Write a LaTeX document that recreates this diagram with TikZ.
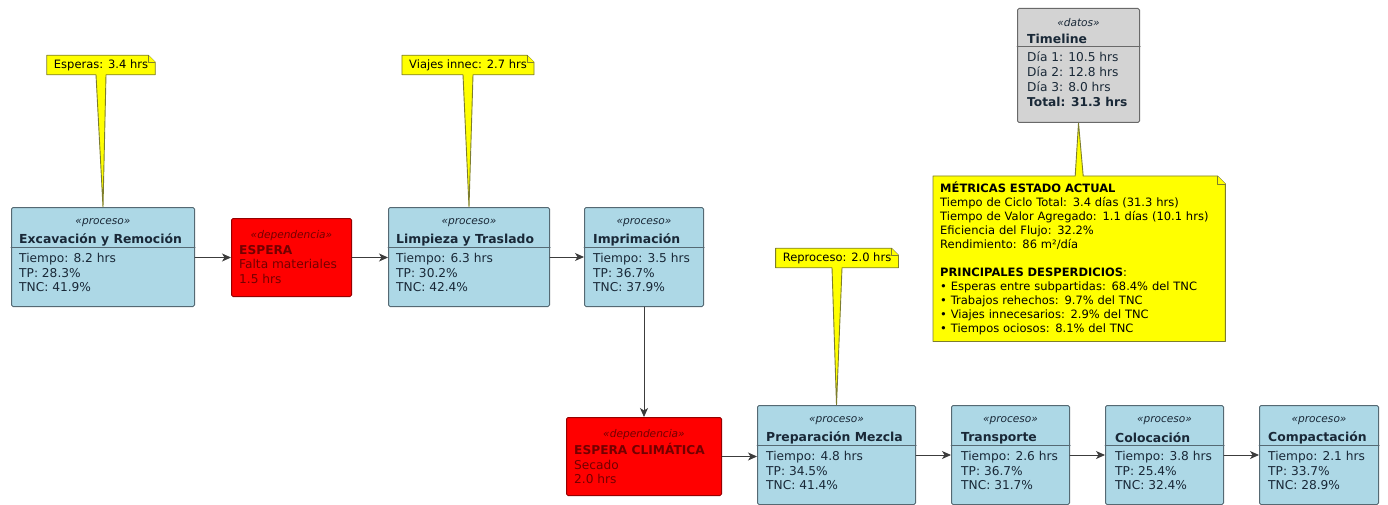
\documentclass[tikz,border=0pt]{standalone}
\usepackage{fontspec}
\setmainfont{DejaVu Sans}
\usepackage{tikz}
\usetikzlibrary{arrows.meta, calc, backgrounds}
\definecolor{procBlue}{HTML}{ADD8E6}
\definecolor{procLine}{RGB}{85,105,115}
\definecolor{waitRed}{HTML}{FF0000}
\definecolor{waitLine}{RGB}{150,0,0}
\definecolor{waitText}{RGB}{115,0,0}
\definecolor{noteYellow}{HTML}{FFFF00}
\definecolor{noteLine}{RGB}{125,125,45}
\definecolor{dataGray}{HTML}{D3D3D3}
\definecolor{dataLine}{RGB}{105,105,105}
\definecolor{inkDark}{RGB}{25,40,55}
\definecolor{flowGray}{RGB}{60,60,60}

\begin{document}
\begin{tikzpicture}[x=1pt, y=-1pt, line cap=round,
  proc/.style={draw=procLine, fill=procBlue, line width=1pt, rounded corners=1.5pt,
    minimum width=#1, minimum height=99pt, anchor=north west, inner sep=0pt},
  wait/.style={draw=waitLine, fill=waitRed, line width=1pt, rounded corners=1.5pt,
    minimum width=#1, minimum height=78pt, anchor=north west, inner sep=0pt},
  data/.style={draw=dataLine, fill=dataGray, line width=1pt, rounded corners=1.5pt,
    minimum width=122pt, minimum height=114pt, anchor=north west, inner sep=0pt},
  stereo/.style={font=\fontsize{10.6}{13}\selectfont\itshape, text=inkDark, inner sep=0pt},
  boxtitle/.style={font=\fontsize{12.4}{14}\selectfont\bfseries, text=inkDark, anchor=west, inner sep=0pt},
  boxbody/.style={font=\fontsize{12.2}{14.7}\selectfont, text=inkDark, align=left, anchor=north west, inner sep=0pt},
  sepline/.style={draw=procLine, line width=1pt},
  notetext/.style={font=\fontsize{11.5}{14}\selectfont, inner xsep=7pt, inner ysep=4pt},
  noteshape/.style={draw=noteLine, fill=noteYellow, line width=0.9pt, line join=round},
  flow/.style={draw=flowGray, line width=0.9pt, -{Stealth[length=9pt, width=8pt, inset=2.5pt]}}]

  \useasboundingbox (0,0) rectangle (1388,505);

  % procesos, fila superior
  \node[proc=183pt] (exc) at (11,207) {};
  \node[stereo] (excS) at ([yshift=-16pt]exc.north) {«proceso»};
  \node[boxtitle] (excT) at ([xshift=8pt,yshift=-33pt]exc.north west) {Excavación y Remoción};
  \draw[sepline] ([yshift=-40pt]exc.north west) -- ([yshift=-40pt]exc.north east);
  \node[boxbody] (excB) at ([xshift=8pt,yshift=-46pt]exc.north west) {Tiempo: 8.2 hrs\\TP: 28.3\%\\TNC: 41.9\%};

  \node[wait=120pt] (esp) at (231,218) {};
  \node[stereo, text=waitText] (espS) at ([yshift=-18pt]esp.north) {«dependencia»};
  \node[boxbody, text=waitText] (espB) at ([xshift=8pt,yshift=-27pt]esp.north west) {\textbf{ESPERA}\\Falta materiales\\1.5 hrs};

  \node[proc=161pt] (limp) at (388,207) {};
  \node[stereo] (limpS) at ([yshift=-16pt]limp.north) {«proceso»};
  \node[boxtitle] (limpT) at ([xshift=8pt,yshift=-33pt]limp.north west) {Limpieza y Traslado};
  \draw[sepline] ([yshift=-40pt]limp.north west) -- ([yshift=-40pt]limp.north east);
  \node[boxbody] (limpB) at ([xshift=8pt,yshift=-46pt]limp.north west) {Tiempo: 6.3 hrs\\TP: 30.2\%\\TNC: 42.4\%};

  \node[proc=119pt] (impr) at (584,207) {};
  \node[stereo] (imprS) at ([yshift=-16pt]impr.north) {«proceso»};
  \node[boxtitle] (imprT) at ([xshift=9pt,yshift=-33pt]impr.north west) {Imprimación};
  \draw[sepline] ([yshift=-40pt]impr.north west) -- ([yshift=-40pt]impr.north east);
  \node[boxbody] (imprB) at ([xshift=9pt,yshift=-46pt]impr.north west) {Tiempo: 3.5 hrs\\TP: 36.7\%\\TNC: 37.9\%};

  % procesos, fila inferior
  \node[wait=155pt] (clim) at (566,417) {};
  \node[stereo, text=waitText] (climS) at ([yshift=-18pt]clim.north) {«dependencia»};
  \node[boxbody, text=waitText] (climB) at ([xshift=8pt,yshift=-26pt]clim.north west) {\textbf{ESPERA CLIMÁTICA}\\Secado\\2.0 hrs};

  \node[proc=158pt] (prep) at (757,405) {};
  \node[stereo] (prepS) at ([yshift=-16pt]prep.north) {«proceso»};
  \node[boxtitle] (prepT) at ([xshift=9pt,yshift=-33pt]prep.north west) {Preparación Mezcla};
  \draw[sepline] ([yshift=-40pt]prep.north west) -- ([yshift=-40pt]prep.north east);
  \node[boxbody] (prepB) at ([xshift=9pt,yshift=-46pt]prep.north west) {Tiempo: 4.8 hrs\\TP: 34.5\%\\TNC: 41.4\%};

  \node[proc=118pt] (tran) at (951,405) {};
  \node[stereo] (tranS) at ([yshift=-16pt]tran.north) {«proceso»};
  \node[boxtitle] (tranT) at ([xshift=10pt,yshift=-33pt]tran.north west) {Transporte};
  \draw[sepline] ([yshift=-40pt]tran.north west) -- ([yshift=-40pt]tran.north east);
  \node[boxbody] (tranB) at ([xshift=10pt,yshift=-46pt]tran.north west) {Tiempo: 2.6 hrs\\TP: 36.7\%\\TNC: 31.7\%};

  \node[proc=118pt] (colo) at (1105,405) {};
  \node[stereo] (coloS) at ([yshift=-16pt]colo.north) {«proceso»};
  \node[boxtitle] (coloT) at ([xshift=10pt,yshift=-33pt]colo.north west) {Colocación};
  \draw[sepline] ([yshift=-40pt]colo.north west) -- ([yshift=-40pt]colo.north east);
  \node[boxbody] (coloB) at ([xshift=10pt,yshift=-46pt]colo.north west) {Tiempo: 3.8 hrs\\TP: 25.4\%\\TNC: 32.4\%};

  \node[proc=119pt] (comp) at (1259,405) {};
  \node[stereo] (compS) at ([yshift=-16pt]comp.north) {«proceso»};
  \node[boxtitle] (compT) at ([xshift=9pt,yshift=-33pt]comp.north west) {Compactación};
  \draw[sepline] ([yshift=-40pt]comp.north west) -- ([yshift=-40pt]comp.north east);
  \node[boxbody] (compB) at ([xshift=9pt,yshift=-46pt]comp.north west) {Tiempo: 2.1 hrs\\TP: 33.7\%\\TNC: 28.9\%};

  % timeline
  \node[data] (tl) at (1017,8) {};
  \node[stereo] (tlS) at ([yshift=-15pt]tl.north) {«datos»};
  \node[boxtitle] (tlT) at ([xshift=10pt,yshift=-31pt]tl.north west) {Timeline};
  \draw[sepline, draw=dataLine] ([yshift=-39pt]tl.north west) -- ([yshift=-39pt]tl.north east);
  \node[boxbody] (tlB) at ([xshift=10pt,yshift=-44pt]tl.north west) {Día 1: 10.5 hrs\\Día 2: 12.8 hrs\\Día 3: 8.0 hrs\\\textbf{Total: 31.3 hrs}};

  % notas
  \node[notetext] (nEsp) at (101,65) {Esperas: 3.4 hrs};
  \node[notetext] (nVia) at (468,65) {Viajes innec: 2.7 hrs};
  \node[notetext] (nRep) at (837,258) {Reproceso: 2.0 hrs};
  \node[notetext, text width=278pt, inner ysep=6pt, anchor=north west] (nMet) at (933,176)
    {\textbf{MÉTRICAS ESTADO ACTUAL}\\
     Tiempo de Ciclo Total: 3.4 días (31.3 hrs)\\
     Tiempo de Valor Agregado: 1.1 días (10.1 hrs)\\
     Eficiencia del Flujo: 32.2\%\\
     Rendimiento: 86 m²/día\\[14pt]
     \textbf{PRINCIPALES DESPERDICIOS}:\\
     • Esperas entre subpartidas: 68.4\% del TNC\\
     • Trabajos rehechos: 9.7\% del TNC\\
     • Viajes innecesarios: 2.9\% del TNC\\
     • Tiempos ociosos: 8.1\% del TNC};

  \begin{scope}[on background layer]
    \draw[noteshape] (nEsp.north west) -- ([xshift=-7pt]nEsp.north east) -- ([yshift=-7pt]nEsp.north east)
      -- (nEsp.south east) -- ([xshift=5pt]nEsp.south) -- (exc.north) -- ([xshift=-5pt]nEsp.south)
      -- (nEsp.south west) -- cycle;
    \draw[noteshape] ([xshift=-7pt]nEsp.north east) |- ([yshift=-7pt]nEsp.north east);

    \draw[noteshape] (nVia.north west) -- ([xshift=-7pt]nVia.north east) -- ([yshift=-7pt]nVia.north east)
      -- (nVia.south east) -- ([xshift=5pt]nVia.south) -- (limp.north) -- ([xshift=-5pt]nVia.south)
      -- (nVia.south west) -- cycle;
    \draw[noteshape] ([xshift=-7pt]nVia.north east) |- ([yshift=-7pt]nVia.north east);

    \draw[noteshape] (nRep.north west) -- ([xshift=-7pt]nRep.north east) -- ([yshift=-7pt]nRep.north east)
      -- (nRep.south east) -- ([xshift=5pt]nRep.south) -- (prep.north) -- ([xshift=-5pt]nRep.south)
      -- (nRep.south west) -- cycle;
    \draw[noteshape] ([xshift=-7pt]nRep.north east) |- ([yshift=-7pt]nRep.north east);

    \draw[noteshape] (nMet.north west) -- ([xshift=-4pt]nMet.north) -- (tl.south) -- ([xshift=4pt]nMet.north)
      -- ([xshift=-8pt]nMet.north east) -- ([yshift=-8pt]nMet.north east)
      -- (nMet.south east) -- (nMet.south west) -- cycle;
    \draw[noteshape] ([xshift=-8pt]nMet.north east) |- ([yshift=-8pt]nMet.north east);
  \end{scope}

  % flujo
  \draw[flow] (exc.east |- esp.west) -- (esp.west);
  \draw[flow] (esp.east) -- (esp.east -| limp.west);
  \draw[flow] (limp.east) -- (impr.west);
  \draw[flow] (impr.south) -- (clim.north);
  \draw[flow] (clim.east) -- (clim.east -| prep.west);
  \draw[flow] (prep.east) -- (tran.west);
  \draw[flow] (tran.east) -- (colo.west);
  \draw[flow] (colo.east) -- (comp.west);
\end{tikzpicture}
\end{document}
